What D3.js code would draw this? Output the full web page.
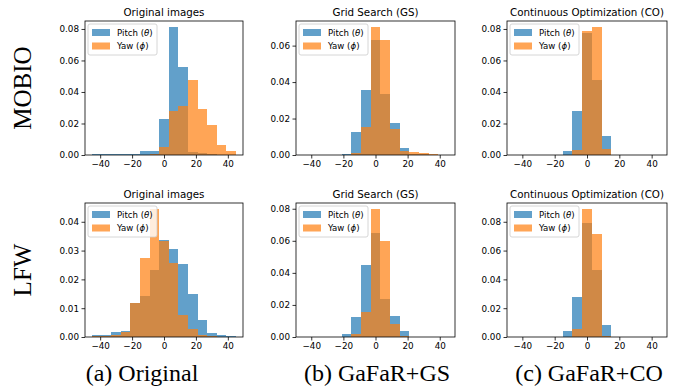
<!DOCTYPE html>
<html>
<head>
<meta charset="utf-8">
<script src="https://cdn.jsdelivr.net/npm/d3@7"></script>
<style>
  body { margin: 0; background: #fff; }
  svg { display: block; font-family: "DejaVu Sans", sans-serif; }
</style>
</head>
<body>
<div id="wrapper"></div>
<script>
// histogram bins: 15 bins of 6 degrees from -45 to 45
const binEdges = [-45, -39, -33, -27, -21, -15, -9, -3, 3, 9, 15, 21, 27, 33, 39, 45];
const xTicks = [-40, -20, 0, 20, 40];

const rowNames = ["MOBIO", "LFW"];
const colTitles = ["Original images", "Grid Search (GS)", "Continuous Optimization (CO)"];
const captions = ["(a) Original", "(b) GaFaR+GS", "(c) GaFaR+CO"];
const seriesNames = ["Pitch", "Yaw"];
const seriesSymbols = ["θ", "ϕ"];

// densities, one value per bin
const mobioOrigPitch = [0.0004, 0.0004, 0.0004, 0.0004, 0.0004, 0.0026, 0.0027, 0.0231, 0.0810, 0.0559, 0.0020, 0.0010, 0.0005, 0.0003, 0.0002];
const mobioOrigYaw   = [0.0003, 0.0003, 0.0003, 0.0003, 0.0003, 0.0003, 0.0004, 0.0049, 0.0277, 0.0313, 0.0478, 0.0290, 0.0190, 0.0065, 0.0027];
const mobioGsPitch   = [0.0002, 0.0002, 0.0002, 0.0002, 0.0003, 0.0126, 0.0358, 0.0632, 0.0335, 0.0176, 0.0038, 0.0005, 0.0003, 0.0002, 0.0001];
const mobioGsYaw     = [0.0002, 0.0002, 0.0002, 0.0002, 0.0002, 0.0010, 0.0154, 0.0700, 0.0630, 0.0143, 0.0020, 0.0015, 0.0010, 0.0003, 0.0002];
const mobioCoPitch   = [0.0001, 0.0001, 0.0001, 0.0001, 0.0002, 0.0027, 0.0281, 0.0775, 0.0478, 0.0123, 0.0003, 0.0002, 0.0002, 0.0002, 0.0001];
const mobioCoYaw     = [0.0001, 0.0001, 0.0001, 0.0001, 0.0001, 0.0003, 0.0034, 0.0790, 0.0810, 0.0038, 0.0002, 0.0002, 0.0002, 0.0002, 0.0002];
const lfwOrigPitch   = [0.0006, 0.0006, 0.0016, 0.0022, 0.0117, 0.0141, 0.0234, 0.0336, 0.0304, 0.0252, 0.0149, 0.0058, 0.0014, 0.0008, 0.0003];
const lfwOrigYaw     = [0.0002, 0.0003, 0.0006, 0.0016, 0.0118, 0.0275, 0.0443, 0.0334, 0.0257, 0.0078, 0.0028, 0.0007, 0.0002, 0.0001, 0.0001];
const lfwGsPitch     = [0.0001, 0.0001, 0.0001, 0.0002, 0.0019, 0.0127, 0.0452, 0.0650, 0.0240, 0.0133, 0.0039, 0.0003, 0.0002, 0.0001, 0.0001];
const lfwGsYaw       = [0.0001, 0.0001, 0.0001, 0.0001, 0.0002, 0.0021, 0.0158, 0.0796, 0.0596, 0.0083, 0.0007, 0.0002, 0.0001, 0.0001, 0.0001];
const lfwCoPitch     = [0.0001, 0.0001, 0.0001, 0.0001, 0.0001, 0.0044, 0.0280, 0.0788, 0.0468, 0.0086, 0.0002, 0.0001, 0.0001, 0.0001, 0.0001];
const lfwCoYaw       = [0.0001, 0.0001, 0.0001, 0.0001, 0.0001, 0.0002, 0.0058, 0.0886, 0.0716, 0.0010, 0.0001, 0.0001, 0.0001, 0.0001, 0.0001];

const panels = [
  [[mobioOrigPitch, mobioOrigYaw], [mobioGsPitch, mobioGsYaw], [mobioCoPitch, mobioCoYaw]],
  [[lfwOrigPitch, lfwOrigYaw], [lfwGsPitch, lfwGsYaw], [lfwCoPitch, lfwCoYaw]]
];

const width = 673, height = 390;
const colX = [[85, 243], [296, 455], [507, 667]];
const rowY = [[21, 155], [203, 337]];
const colors = ["#1f77b4", "#ff7f0e"];

const svg = d3.select("#wrapper").append("svg")
  .attr("width", width)
  .attr("height", height);

rowNames.forEach((rowName, r) => {
  const [y0, y1] = rowY[r];

  svg.append("text")
    .attr("transform", `translate(31,${(y0 + y1) / 2}) rotate(-90)`)
    .attr("text-anchor", "middle")
    .style("font-family", "'Liberation Serif', serif")
    .style("font-size", "25px")
    .text(rowName);

  colTitles.forEach((title, c) => {
    const [x0, x1] = colX[c];
    const series = panels[r][c];

    const x = d3.scaleLinear().domain([-49.5, 49.5]).range([x0, x1]);
    const yMax = d3.max(series, s => d3.max(s)) * 1.05;
    const y = d3.scaleLinear().domain([0, yMax]).range([y1, y0]);

    const g = svg.append("g");

    series.forEach((vals, i) => {
      g.append("g")
        .selectAll("rect")
        .data(vals)
        .join("rect")
        .attr("x", (d, k) => x(binEdges[k]))
        .attr("width", (d, k) => x(binEdges[k + 1]) - x(binEdges[k]))
        .attr("y", d => y(d))
        .attr("height", d => y(0) - y(d))
        .attr("fill", colors[i])
        .attr("fill-opacity", 0.7)
        .attr("shape-rendering", "crispEdges");
    });

    // axes
    const xAxis = g.append("g")
      .attr("transform", `translate(0,${y1})`)
      .call(d3.axisBottom(x).tickValues(xTicks).tickSize(3.5).tickPadding(2).tickFormat(d => d < 0 ? "−" + Math.abs(d) : d));
    const yAxis = g.append("g")
      .attr("transform", `translate(${x0},0)`)
      .call(d3.axisLeft(y).ticks(5).tickSize(3.5).tickPadding(2.5).tickFormat(d3.format(".2f")));
    [xAxis, yAxis].forEach(a => {
      a.select(".domain").remove();
      a.selectAll("line").attr("stroke", "#000").attr("stroke-width", 0.8);
      a.selectAll("text").attr("fill", "#000").style("font-size", "8.8px").style("font-family", "'DejaVu Sans', sans-serif");
    });

    g.append("rect")
      .attr("x", x0).attr("y", y0)
      .attr("width", x1 - x0).attr("height", y1 - y0)
      .attr("fill", "none")
      .attr("stroke", "#000")
      .attr("stroke-width", 0.8);

    g.append("text")
      .attr("x", (x0 + x1) / 2)
      .attr("y", y0 - 5.5)
      .attr("text-anchor", "middle")
      .style("font-size", "10.3px")
      .text(title);

    // legend
    const lg = g.append("g").attr("transform", `translate(${x0 + 3},${y0 + 3})`);
    lg.append("rect")
      .attr("width", 69).attr("height", 31).attr("rx", 2)
      .attr("fill", "#fff").attr("fill-opacity", 0.8)
      .attr("stroke", "#cccccc").attr("stroke-width", 0.8);
    seriesNames.forEach((name, i) => {
      lg.append("rect")
        .attr("x", 4).attr("y", 5 + i * 13.5)
        .attr("width", 18).attr("height", 7)
        .attr("fill", colors[i]).attr("fill-opacity", 0.7);
      const t = lg.append("text")
        .attr("x", 29).attr("y", 11.8 + i * 13.5)
        .style("font-size", "8.6px");
      t.append("tspan").text(name + " (");
      t.append("tspan").style("font-style", "italic").text(seriesSymbols[i]);
      t.append("tspan").text(")");
    });
  });
});

// subfigure captions
const captionX = [142, 377, 589];
captions.forEach((cap, c) => {
  svg.append("text")
    .attr("x", captionX[c])
    .attr("y", 381)
    .attr("text-anchor", "middle")
    .style("font-family", "'Liberation Serif', serif")
    .style("font-size", "24px")
    .text(cap);
});
</script>
</body>
</html>
